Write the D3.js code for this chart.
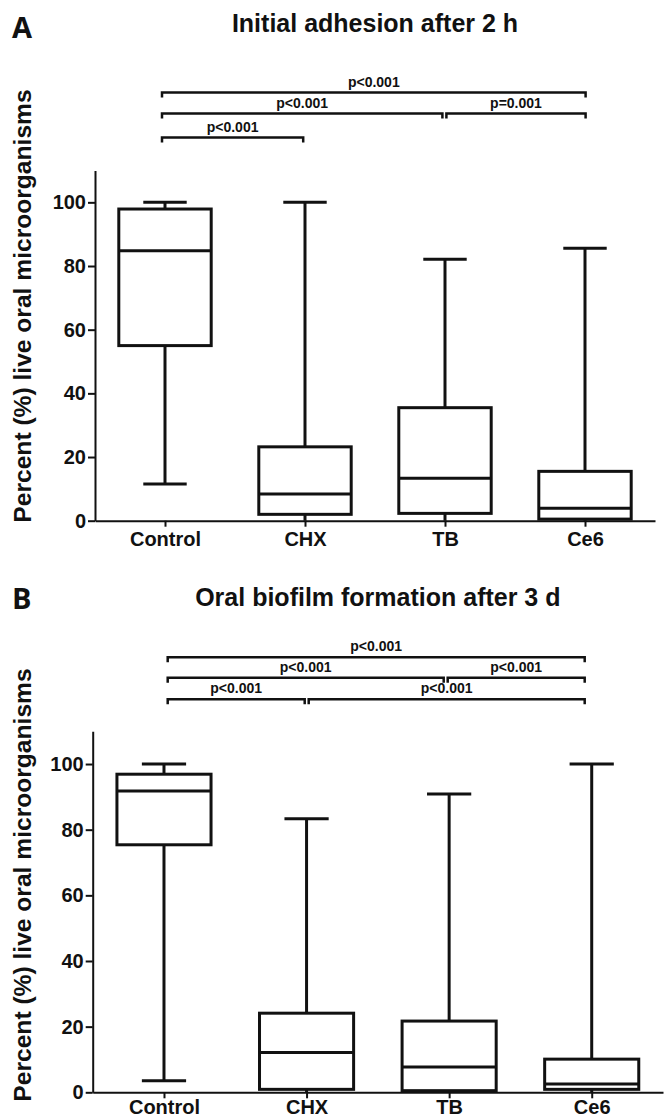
<!DOCTYPE html>
<html>
<head>
<meta charset="utf-8">
<script src="https://cdn.jsdelivr.net/npm/d3@7"></script>
<style>
  body { margin: 0; background: #fff; }
  text { font-family: "Liberation Sans", Arial, sans-serif; font-weight: bold; fill: #111; }
  .panel-letter { font-family: "Open Sans", sans-serif; font-size: 29px; font-weight: 700; }
  .panel-title { font-size: 25px; }
  .y-label { font-size: 24.6px; }
  .axis text { font-size: 20px; font-weight: bold; fill: #111; }
  .axis path, .axis line { stroke: #111; stroke-width: 2; }
  .box { fill: none; stroke: #111; stroke-width: 3; }
  .whisker, .cap, .median { stroke: #111; stroke-width: 3; }
  .bracket { fill: none; stroke: #111; stroke-width: 2.5; }
  .p-label { font-size: 14px; }
</style>
</head>
<body>
<div id="wrapper"></div>
<script>
// groups
const groups = ["Control", "CHX", "TB", "Ce6"]
const yTicks = [0, 20, 40, 60, 80, 100]

// A: initial adhesion after 2 h
const adhesionMin = [11.5, 0, 0, 0]
const adhesionQ1 = [55, 2.0, 2.3, 0.5]
const adhesionMedian = [84.8, 8.4, 13.3, 3.9]
const adhesionQ3 = [97.9, 23.2, 35.5, 15.5]
const adhesionMax = [100, 100, 82.1, 85.6]
const adhesionPairs = [["Control", "Ce6"], ["Control", "TB"], ["TB", "Ce6"], ["Control", "CHX"]]
const adhesionLevels = [0, 1, 1, 2]
const adhesionP = ["p<0.001", "p<0.001", "p=0.001", "p<0.001"]

// B: oral biofilm formation after 3 d
const biofilmMin = [3.5, 0, 0, 0]
const biofilmQ1 = [75.4, 0.9, 0.5, 0.9]
const biofilmMedian = [91.8, 12.1, 7.7, 2.5]
const biofilmQ3 = [96.9, 24.1, 21.7, 10.1]
const biofilmMax = [100, 83.3, 90.9, 100]
const biofilmPairs = [["Control", "Ce6"], ["Control", "TB"], ["TB", "Ce6"], ["Control", "CHX"], ["CHX", "Ce6"]]
const biofilmLevels = [0, 1, 1, 2, 2]
const biofilmP = ["p<0.001", "p<0.001", "p<0.001", "p<0.001", "p<0.001"]

const width = 669
const height = 1117

const svg = d3.select("#wrapper")
  .append("svg")
    .attr("width", width)
    .attr("height", height)

function drawPanel(cfg) {
  const boxes = groups.map((g, i) => ({
    group: g,
    min: cfg.min[i], q1: cfg.q1[i], median: cfg.median[i], q3: cfg.q3[i], max: cfg.max[i],
  }))

  // scales
  const xScale = d3.scalePoint()
    .domain(groups)
    .range([cfg.left, cfg.right])
    .padding(0.5)
  const yScale = d3.scaleLinear()
    .domain([0, 110])
    .range([cfg.bottom, cfg.top])
  // brackets sit slightly off the box centres in the original
  const bracketScale = xScale.copy().range(cfg.bracketRange)

  const boxWidth = xScale.step() * 0.66
  const capWidth = boxWidth * 0.47

  const g = svg.append("g")

  // letter + title
  g.append("text")
      .attr("class", "panel-letter")
      .attr("x", 12)
      .attr("y", cfg.letterY)
      .text(cfg.letter)
  g.append("text")
      .attr("class", "panel-title")
      .attr("x", (cfg.left + cfg.right) / 2)
      .attr("y", cfg.titleY)
      .attr("text-anchor", "middle")
      .text(cfg.title)

  // y label
  g.append("text")
      .attr("class", "y-label")
      .attr("text-anchor", "middle")
      .attr("transform", `translate(31, ${cfg.labelY}) rotate(-90)`)
      .text("Percent (%) live oral microorganisms")

  // axes
  g.append("g")
      .attr("class", "axis")
      .attr("transform", `translate(${cfg.left}, 0)`)
      .call(d3.axisLeft(yScale).tickValues(yTicks).tickSize(7).tickSizeOuter(0).tickPadding(2))
  g.append("g")
      .attr("class", "axis")
      .attr("transform", `translate(0, ${cfg.bottom})`)
      .call(d3.axisBottom(xScale).tickSize(6).tickSizeOuter(0).tickPadding(cfg.xPad))

  // whiskers
  const box = g.selectAll(".box-group")
      .data(boxes)
    .enter().append("g")
      .attr("class", "box-group")

  box.append("line")
      .attr("class", "whisker")
      .attr("x1", d => xScale(d.group))
      .attr("x2", d => xScale(d.group))
      .attr("y1", d => yScale(d.max))
      .attr("y2", d => yScale(d.q3))
  box.append("line")
      .attr("class", "whisker")
      .attr("x1", d => xScale(d.group))
      .attr("x2", d => xScale(d.group))
      .attr("y1", d => yScale(d.q1))
      .attr("y2", d => yScale(d.min))
  box.append("line")
      .attr("class", "cap")
      .attr("x1", d => xScale(d.group) - capWidth / 2)
      .attr("x2", d => xScale(d.group) + capWidth / 2)
      .attr("y1", d => yScale(d.max))
      .attr("y2", d => yScale(d.max))
  box.filter(d => d.min > 0).append("line")
      .attr("class", "cap")
      .attr("x1", d => xScale(d.group) - capWidth / 2)
      .attr("x2", d => xScale(d.group) + capWidth / 2)
      .attr("y1", d => yScale(d.min))
      .attr("y2", d => yScale(d.min))

  box.append("rect")
      .attr("class", "box")
      .attr("x", d => xScale(d.group) - boxWidth / 2)
      .attr("width", boxWidth)
      .attr("y", d => yScale(d.q3))
      .attr("height", d => yScale(d.q1) - yScale(d.q3))
  box.append("line")
      .attr("class", "median")
      .attr("x1", d => xScale(d.group) - boxWidth / 2)
      .attr("x2", d => xScale(d.group) + boxWidth / 2)
      .attr("y1", d => yScale(d.median))
      .attr("y2", d => yScale(d.median))

  // significance brackets
  const brackets = cfg.pairs.map((p, i) => ({ a: p[0], b: p[1], level: cfg.levels[i], label: cfg.p[i] }))
  const gap = 2
  const tick = 5
  brackets.forEach(d => {
    const sharedLeft = brackets.some(o => o !== d && o.level === d.level && o.b === d.a)
    const sharedRight = brackets.some(o => o !== d && o.level === d.level && o.a === d.b)
    d.x1 = bracketScale(d.a) + (sharedLeft ? gap : 0)
    d.x2 = bracketScale(d.b) - (sharedRight ? gap : 0)
    d.y = cfg.top - cfg.bracketOffsets[d.level]
  })

  g.selectAll(".bracket")
      .data(brackets)
    .enter().append("path")
      .attr("class", "bracket")
      .attr("d", d => `M${d.x1},${d.y + tick}V${d.y}H${d.x2}V${d.y + tick}`)

  g.selectAll(".p-label")
      .data(brackets)
    .enter().append("text")
      .attr("class", "p-label")
      .attr("x", d => (d.x1 + d.x2) / 2)
      .attr("y", d => d.y - 6)
      .attr("text-anchor", "middle")
      .text(d => d.label)
}

drawPanel({
  letter: "A", title: "Initial adhesion after 2 h",
  letterY: 38, titleY: 32, labelY: 306, xPad: 5,
  left: 95, right: 655, top: 170.5, bottom: 520.7,
  bracketRange: [91.4, 656.2],
  bracketOffsets: [78, 57, 33],
  min: adhesionMin, q1: adhesionQ1, median: adhesionMedian, q3: adhesionQ3, max: adhesionMax,
  pairs: adhesionPairs, levels: adhesionLevels, p: adhesionP,
})

drawPanel({
  letter: "B", title: "Oral biofilm formation after 3 d",
  letterY: 609, titleY: 606, labelY: 885, xPad: 2,
  left: 92.7, right: 663, top: 731.2, bottom: 1092.3,
  bracketRange: [98.2, 654.2],
  bracketOffsets: [74, 53.5, 32],
  min: biofilmMin, q1: biofilmQ1, median: biofilmMedian, q3: biofilmQ3, max: biofilmMax,
  pairs: biofilmPairs, levels: biofilmLevels, p: biofilmP,
})
</script>
</body>
</html>
